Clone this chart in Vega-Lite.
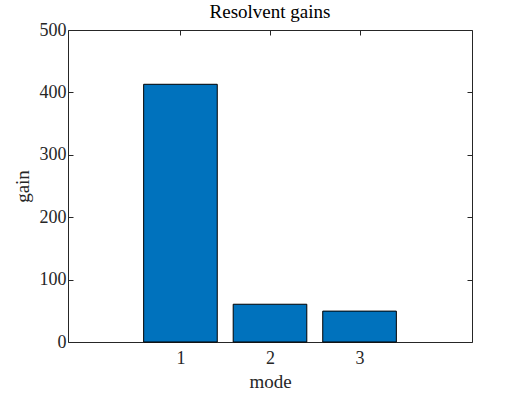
{
  "$schema": "https://vega.github.io/schema/vega-lite/v6.json",
  "width": 404,
  "height": 312,
  "autosize": "none",
  "padding": {"left": 68, "top": 30, "right": 53, "bottom": 52},
  "background": "white",
  "config": {
    "font": "Liberation Serif",
    "view": {"stroke": "#262626", "strokeWidth": 1},
    "axis": {
      "grid": false,
      "domain": false,
      "tickColor": "#262626",
      "tickSize": -5,
      "tickWidth": 1,
      "labelColor": "#262626",
      "labelFontSize": 18,
      "labelFont": "Liberation Serif",
      "titleFont": "Liberation Serif",
      "titleFontSize": 19,
      "titleColor": "#262626",
      "titleFontWeight": "normal"
    }
  },
  "title": {
    "text": "Resolvent gains",
    "fontSize": 19,
    "fontWeight": "normal",
    "font": "Liberation Serif",
    "color": "#000000",
    "offset": -1
  },
  "data": {
    "values": [
      {"mode": 1, "gain": 413},
      {"mode": 2, "gain": 60.5},
      {"mode": 3, "gain": 49.5}
    ]
  },
  "layer": [
    {
      "mark": {"type": "bar", "width": 73.6, "color": "#0072BD", "stroke": "#000000", "strokeWidth": 1},
      "encoding": {
        "x": {
          "field": "mode",
          "type": "quantitative",
          "scale": {"domain": [-0.2, 4.2], "nice": false, "zero": false},
          "axis": {"values": [1, 2, 3], "title": "mode", "labelAngle": 0, "labelPadding": 12, "titlePadding": 5, "orient": "bottom"}
        },
        "y": {
          "field": "gain",
          "type": "quantitative",
          "scale": {"domain": [0, 500], "nice": false},
          "axis": {"values": [0, 100, 200, 300, 400, 500], "title": "gain", "labelPadding": 7, "titlePadding": 7, "orient": "left"}
        }
      }
    },
    {
      "mark": {"type": "point", "opacity": 0},
      "encoding": {
        "x": {
          "field": "mode",
          "type": "quantitative",
          "scale": {"domain": [-0.2, 4.2], "nice": false, "zero": false},
          "axis": {"values": [1, 2, 3], "title": null, "labels": false, "orient": "top"}
        },
        "y": {
          "field": "gain",
          "type": "quantitative",
          "scale": {"domain": [0, 500], "nice": false},
          "axis": {"values": [0, 100, 200, 300, 400, 500], "title": null, "labels": false, "orient": "right"}
        }
      }
    }
  ],
  "resolve": {"axis": {"x": "independent", "y": "independent"}}
}
